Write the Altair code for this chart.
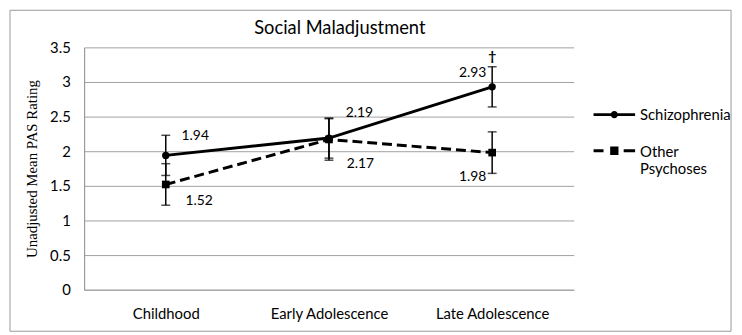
import altair as alt
import pandas as pd

categories = ["Childhood", "Early Adolescence", "Late Adolescence"]
series_names = ["Schizophrenia", "Other Psychoses"]
schizophrenia = [1.94, 2.19, 2.93]
other_psychoses = [1.52, 2.17, 1.98]
schizophrenia_err = [0.29, 0.29, 0.29]
other_err = [0.30, 0.30, 0.30]
schizophrenia_notes = ["", "", "\u2020"]
other_notes = ["", "", ""]
y_ticks = [0, 0.5, 1, 1.5, 2, 2.5, 3, 3.5]

rows = []
for name, vals, errs, notes in [
    ("Schizophrenia", schizophrenia, schizophrenia_err, schizophrenia_notes),
    ("Other Psychoses", other_psychoses, other_err, other_notes),
]:
    for c, v, e, n in zip(categories, vals, errs, notes):
        rows.append({"stage": c, "group": name, "mean": v, "err": e, "note": n})
df = pd.DataFrame(rows)

FONT = "Lato"
SERIF = "Liberation Serif"
GRID = "#a0a0a0"

base = alt.Chart(df).transform_calculate(
    lower="datum.mean - datum.err", upper="datum.mean + datum.err"
)

x_axis = alt.Axis(
    title=None, labelAngle=0, ticks=False, domain=True, domainColor=GRID,
    labelFont=FONT, labelFontSize=15, labelColor="black", labelPadding=17,
    grid=False,
)
x_scale = alt.Scale(type="point", padding=0.5)
y_axis = alt.Axis(
    values=y_ticks, format="~g", labelOverlap=False,
    title="Unadjusted Mean PAS Rating",
    titleFont=SERIF, titleFontSize=15, titleFontWeight="normal",
    titleColor="black", titlePadding=10,
    labelFont=FONT, labelFontSize=15, labelColor="black", labelPadding=14,
    ticks=False, domainColor="#888888", gridColor=GRID, gridWidth=1,
)
y_scale = alt.Scale(domain=[0, 3.5], nice=False, zero=True)


def X():
    return alt.X("stage:N", sort=categories, scale=x_scale, axis=x_axis)


def Y(field):
    return alt.Y(field, scale=y_scale, axis=y_axis, title="Unadjusted Mean PAS Rating")


line_s = base.transform_filter(alt.datum.group == "Schizophrenia").mark_line(
    color="black", strokeWidth=3
).encode(x=X(), y=Y("mean:Q"))
line_o = base.transform_filter(alt.datum.group == "Other Psychoses").mark_line(
    color="black", strokeWidth=3, strokeDash=[10, 5]
).encode(x=X(), y=Y("mean:Q"))

err_rule = base.mark_rule(color="black", strokeWidth=1.5).encode(
    x=X(), y=Y("lower:Q"), y2="upper:Q"
)
cap_lo = base.mark_tick(color="black", thickness=1.5, size=9).encode(
    x=X(), y=Y("lower:Q")
)
cap_hi = base.mark_tick(color="black", thickness=1.5, size=9).encode(
    x=X(), y=Y("upper:Q")
)

pts_s = base.transform_filter(alt.datum.group == "Schizophrenia").mark_point(
    shape="circle", filled=True, color="black", opacity=1, size=55
).encode(x=X(), y=Y("mean:Q"))
pts_o = base.transform_filter(alt.datum.group == "Other Psychoses").mark_point(
    shape="square", filled=True, color="black", opacity=1, size=60
).encode(x=X(), y=Y("mean:Q"))

# legend symbols as filled outlines (line + marker), units of half-width
path_s = (
    "M-1,-0.07H-0.15V0.07H-1Z M0.15,-0.07H1V0.07H0.15Z "
    "M-0.17,0A0.17,0.17,0,1,1,0.17,0A0.17,0.17,0,1,1,-0.17,0Z"
)
sh = -0.07
path_o = (
    f"M-1,{sh-0.07:.3f}H-0.52V{sh+0.07:.3f}H-1Z "
    f"M0.45,{sh-0.07:.3f}H1V{sh+0.07:.3f}H0.45Z "
    f"M-0.2,{sh-0.2:.3f}H0.2V{sh+0.2:.3f}H-0.2Z"
)

legend_layer = base.mark_point(opacity=0, filled=True, color="black").encode(
    x=X(),
    y=Y("mean:Q"),
    shape=alt.Shape(
        "group:N", sort=series_names,
        scale=alt.Scale(domain=series_names, range=[path_s, path_o]),
        legend=alt.Legend(
            title=None, orient="none", legendX=515, legendY=47,
            symbolSize=1764, symbolFillColor="black", symbolStrokeColor="black",
            symbolStrokeWidth=0, symbolOpacity=1,
            labelFont=FONT, labelFontSize=15, labelColor="black",
            labelOffset=5, labelLimit=200, labelBaseline="middle",
            labelExpr="datum.label == 'Other Psychoses' ? ['Other', 'Psychoses'] : datum.label",
            rowPadding=9,
        ),
    ),
)

label_specs = [
    ("Childhood", "Schizophrenia", "left", 16, -20),
    ("Early Adolescence", "Schizophrenia", "left", 17, -25),
    ("Late Adolescence", "Schizophrenia", "right", -6, -14),
    ("Childhood", "Other Psychoses", "left", 20, 17),
    ("Early Adolescence", "Other Psychoses", "left", 18, 25),
    ("Late Adolescence", "Other Psychoses", "right", -6, 25),
]
label_layers = []
for stage, grp, align, dx, dy in label_specs:
    label_layers.append(
        base.transform_filter(
            (alt.datum.stage == stage) & (alt.datum.group == grp)
        ).mark_text(
            align=align, baseline="middle", dx=dx, dy=dy,
            font=FONT, fontSize=14, color="black",
        ).encode(
            x=X(), y=Y("mean:Q"),
            text=alt.Text("mean:Q", format=".2f"),
        )
    )

notes = base.mark_text(
    baseline="middle", dy=-10, font=FONT, fontSize=14, fontWeight="bold", color="black"
).encode(x=X(), y=Y("upper:Q"), text="note:N")

frame = alt.Chart(pd.DataFrame({"k": [0]})).mark_rect(
    filled=False, stroke="#999999", strokeWidth=1
).encode(
    x=alt.value(-75), x2=alt.value(654), y=alt.value(-37.5), y2=alt.value(287)
)

chart = alt.layer(
    line_s, line_o, frame, err_rule, cap_lo, cap_hi, pts_s, pts_o, legend_layer,
    *label_layers, notes,
).properties(
    width=495,
    height=245,
    title=alt.Title(
        "Social Maladjustment", font=FONT, fontSize=18.5, fontWeight="normal",
        color="black", anchor="middle", dx=11, offset=0, dy=28,
    ),
    autosize=alt.AutoSizeParams(type="none"),
    padding={"left": 77, "top": 38, "right": 162, "bottom": 44},
).configure(
    background="white", view=alt.ViewConfig(strokeWidth=0, stroke=None)
)

chart.save("out.html", embed_options={"renderer": "svg", "actions": False})
